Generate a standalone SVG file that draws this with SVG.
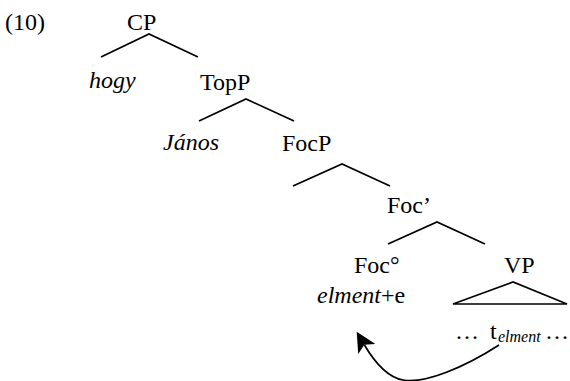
<svg xmlns="http://www.w3.org/2000/svg" width="570" height="381" viewBox="0 0 570 381">
<style>
text{font-family:'Liberation Serif','DejaVu Serif',serif;font-size:24px;fill:#000}
.i{font-style:italic}
.sub{font-size:16px;font-style:italic}
.br{fill:none;stroke:#000;stroke-width:1.7}
</style>
<defs>
<marker id="ah" markerUnits="userSpaceOnUse" markerWidth="20" markerHeight="20" viewBox="0 0 20 20" refX="5" refY="10" orient="auto">
<path d="M0,0 L20,10 L0,20 L5,10 Z" fill="#000"/>
</marker>
</defs>
<rect width="570" height="381" fill="#fff"/>
<text x="5" y="30">(10)</text>
<g id="cp"><text x="127" y="30">CP</text></g>
<g id="hogy"><text class="i" x="89" y="88">hogy</text></g>
<g id="topp"><text x="200" y="90">TopP</text></g>
<g id="janos"><text class="i" x="163" y="150">János</text></g>
<g id="focp"><text x="282" y="151">FocP</text></g>
<g id="focbar"><text x="387" y="213">Foc’</text></g>
<g id="foc0"><text x="354" y="273">Foc°</text><text x="317" y="303"><tspan class="i">elment</tspan>+e</text></g>
<g id="vp"><text x="504" y="273">VP</text><path class="br" d="M453,304 L513,282 L567,304 Z"/><text x="455" y="339">…<tspan x="490">t</tspan><tspan class="sub" x="498" dy="3">elment</tspan><tspan x="545" dy="-3">…</tspan></text></g>
<g id="connectors">
<path class="br" d="M101,57 L149,34 L198,57"/>
<path class="br" d="M199,121 L246,99 L294,121"/>
<path class="br" d="M293,186 L342,164 L390,186"/>
<path class="br" d="M388,244 L437,222 L485,244"/>
<path class="br" d="M499,345 C465,367 425,384 403,380 C392,378 378,368 364.3,344.7" marker-end="url(#ah)"/>
</g>
</svg>
